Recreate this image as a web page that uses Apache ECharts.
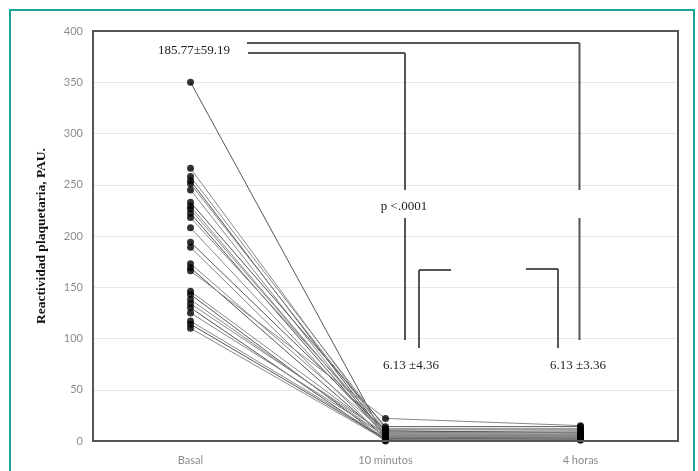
<!DOCTYPE html>
<html><head><meta charset="utf-8">
<script src="https://cdn.jsdelivr.net/npm/echarts@6/dist/echarts.min.js"></script>
<style>html,body{margin:0;padding:0;background:#fff}#c{width:698px;height:471px}</style>
</head><body><div id="c"></div>
<script>
const categories = ['Basal', '10 minutos', '4 horas'];
const yTicks = [0, 50, 100, 150, 200, 250, 300, 350, 400];
const basal  = [350, 266, 258, 254, 251, 245, 233, 229, 226, 222, 218, 208, 194, 189, 173, 169, 166, 146, 143, 138, 134, 130, 125, 117, 114, 110];
const min10  = [2, 8, 12, 5, 9, 3, 14, 6, 7, 4, 11, 5, 10, 2, 8, 3, 22, 6, 1, 4, 7, 0, 5, 3, 2, 1];
const hours4 = [3, 9, 12, 5, 10, 2, 14, 6, 7, 4, 11, 5, 8, 3, 8, 4, 15, 6, 1, 5, 6, 1, 4, 3, 2, 2];
const meanLabels = ['185.77±59.19', '6.13 ±4.36', '6.13 ±3.36'];
const pLabel = 'p <.0001';

const chart = echarts.init(document.getElementById('c'));
const G = {left: 93, right: 20, top: 31, bottom: 30};
const W = 698, H = 471;
const pw = W - G.left - G.right, ph = H - G.top - G.bottom;
const band = pw / categories.length;
const px = c => G.left + band * (c + 0.5);

const series = [];
basal.forEach((b, i) => {
  series.push({type: 'line', data: [b, min10[i], hours4[i]], showSymbol: false, silent: true,
    lineStyle: {color: i % 3 === 0 ? '#555' : '#888', width: 1}, z: 2, animation: false});
});
const pts = [];
basal.forEach((b, i) => { pts.push([0, b]); pts.push([1, min10[i]]); pts.push([2, hours4[i]]); });
series.push({type: 'scatter', data: pts, symbolSize: 7, itemStyle: {color: '#000'}, z: 5, animation: false});

const ann = '#555';
const seg = (x1, y1, x2, y2) => ({type: 'line', shape: {x1, y1, x2, y2}, style: {stroke: ann, lineWidth: 2}, z: 10});
const txt = (x, y, t) => ({type: 'text', x, y, style: {text: t, font: '13px "Liberation Serif"', fill: '#222', align: 'center', verticalAlign: 'middle'}, z: 10});

const xa = px(1) + 19.5, xb = px(2) - 1;
const graphic = [
  {type: 'rect', shape: {x: 10, y: 10, width: 684, height: 470}, style: {fill: 'none', stroke: '#17a59b', lineWidth: 2}, z: 0},
  {type: 'rect', shape: {x: G.left, y: G.top, width: pw, height: ph}, style: {fill: 'none', stroke: '#555', lineWidth: 2}, z: 9},
  seg(247, 43, xb, 43), seg(xb, 43, xb, 190), seg(xb, 218, xb, 340),
  seg(248, 53, xa, 53), seg(xa, 53, xa, 190), seg(xa, 218, xa, 340),
  seg(419, 348, 419, 270), seg(419, 270, 451, 270),
  seg(558, 348, 558, 269), seg(558, 269, 526, 269),
  txt(194, 51, meanLabels[0]),
  txt(411, 366, meanLabels[1]),
  txt(578, 366, meanLabels[2]),
  txt(404, 207, pLabel)
];

chart.setOption({
  animation: false,
  grid: G,
  xAxis: {type: 'category', data: categories, boundaryGap: true,
    axisLine: {show: false}, axisTick: {show: false},
    axisLabel: {color: '#8c8c8c', fontSize: 11, fontFamily: 'Lato', margin: 14}},
  yAxis: {type: 'value', min: 0, max: 400, interval: 50,
    name: 'Reactividad plaquetaria, PAU.', nameLocation: 'middle', nameGap: 44,
    nameTextStyle: {fontFamily: 'Liberation Serif', fontWeight: 'bold', fontSize: 13.5, color: '#111'},
    axisLine: {show: false}, axisTick: {show: false},
    axisLabel: {color: '#8c8c8c', fontSize: 11, fontFamily: 'Lato', margin: 10,
      formatter: v => yTicks.includes(v) ? String(v) : ''},
    splitLine: {lineStyle: {color: '#e6e6e6', width: 1}}},
  series,
  graphic
});
</script></body></html>
